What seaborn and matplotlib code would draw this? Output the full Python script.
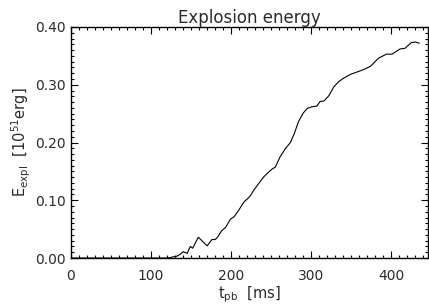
import matplotlib
matplotlib.use("Agg")
import matplotlib.pyplot as plt
import numpy as np
import pandas as pd
import seaborn as sns
from matplotlib.ticker import MultipleLocator, FormatStrFormatter

# values
t_pb = [0, 60, 118, 124, 127, 132, 137, 140, 145, 149, 152, 159, 165, 170,
        176, 180, 183, 188, 193, 199, 204, 210, 216, 223, 229, 236, 241, 247,
        252, 255, 261, 268, 274, 279, 284, 290, 295, 301, 307, 311, 316, 322,
        328, 334, 340, 349, 357, 365, 374, 384, 394, 401, 411, 417, 425, 430,
        435]
e_expl = [0.0, 0.0, 0.0, 0.0005, 0.002, 0.003, 0.007, 0.011, 0.008, 0.020,
          0.017, 0.036, 0.028, 0.021, 0.032, 0.032, 0.036, 0.047, 0.053,
          0.067, 0.072, 0.084, 0.097, 0.106, 0.119, 0.132, 0.141, 0.149,
          0.155, 0.157, 0.175, 0.190, 0.200, 0.216, 0.236, 0.251, 0.259,
          0.262, 0.263, 0.271, 0.272, 0.281, 0.296, 0.305, 0.311, 0.318,
          0.322, 0.326, 0.332, 0.346, 0.353, 0.353, 0.362, 0.363, 0.373,
          0.374, 0.372]

title = "Explosion energy"
xlabel = r"t$_{\rm pb}$  [ms]"
ylabel = r"E$_{\rm expl}$  [10$^{51}$erg]"

sns.set_theme(style="ticks")
plt.rcParams["font.family"] = ["DejaVu Sans"]
plt.rcParams["mathtext.default"] = "regular"
text_color = "#2a2a2a"

data = pd.DataFrame({"t": t_pb, "e": e_expl})

fig = plt.figure(figsize=(4.29, 3.05), dpi=100)
ax = fig.add_axes([0.1655, 0.154, 0.8325, 0.7575])
sns.lineplot(data=data, x="t", y="e", ax=ax, color="black", linewidth=0.8)

ax.set_xlim(0, 446)
ax.set_ylim(0, 0.40)
ax.xaxis.set_major_locator(MultipleLocator(100))
ax.xaxis.set_minor_locator(MultipleLocator(10))
ax.yaxis.set_major_locator(MultipleLocator(0.1))
ax.yaxis.set_minor_locator(MultipleLocator(0.01))
ax.yaxis.set_major_formatter(FormatStrFormatter("%.2f"))

ax.tick_params(which="both", direction="in", top=True, right=True,
               colors="black", labelcolor=text_color, labelsize=10, width=0.8)
ax.tick_params(which="major", length=5)
ax.tick_params(axis="x", which="major", pad=8)
ax.tick_params(axis="y", which="major", pad=4)
ax.tick_params(which="minor", length=2)
for spine in ax.spines.values():
    spine.set_color("black")
    spine.set_linewidth(1.0)

ax.set_title(title, fontsize=12, color=text_color, pad=3)
ax.set_xlabel(xlabel, fontsize=10.5, color=text_color, labelpad=1)
ax.set_ylabel(ylabel, fontsize=10.5, color=text_color, labelpad=1)

fig.savefig("out.png", dpi=100)
